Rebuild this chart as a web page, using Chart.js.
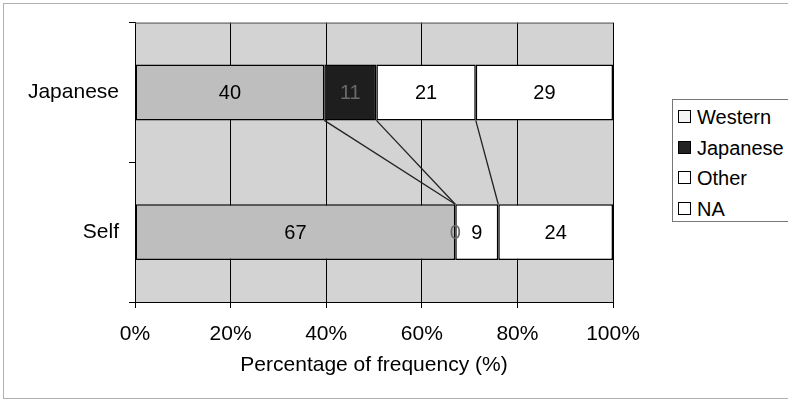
<!DOCTYPE html>
<html>
<head>
<meta charset="utf-8">
<script src="https://cdn.jsdelivr.net/npm/chart.js@4/dist/chart.umd.min.js"></script>
<style>
    body { margin: 0; background: #fff; }
    #wrap { position: relative; width: 788px; height: 401px; overflow: hidden; font-family: "Liberation Sans", Arial, sans-serif; }
    #frame { position: absolute; left: 3px; top: 3px; width: 800px; height: 394px; border: 1px solid #b0b0b0; }
    canvas { position: absolute; left: 0; top: 0; }
    #legend { position: absolute; left: 672px; top: 99px; width: 140px; height: 121px; border: 1px solid #777; background: #fff; }
    .item { position: absolute; left: 5px; font-size: 20px; line-height: 24px; color: #000; white-space: nowrap; }
    .item span { display: inline-block; width: 11px; height: 11px; border: 1px solid #000; margin-right: 6px; vertical-align: 1px; }
</style>
</head>
<body>
<div id="wrap">
    <div id="frame"></div>
    <canvas id="chart" width="788" height="401"></canvas>
    <div id="legend"></div>
</div>
<script>
// data
const categories = ['Japanese', 'Self']
const seriesNames = ['Western', 'Japanese', 'Other', 'NA']
const western = [40, 67]
const japanese = [11, 0]
const other = [21, 9]
const na = [29, 24]
const xTicks = [0, 20, 40, 60, 80, 100]

const seriesValues = [western, japanese, other, na]
const seriesColors = ['#bebebe', '#1e1e1e', '#ffffff', '#ffffff']
const legendSwatch = ['#f4f4f4', '#222222', '#ffffff', '#ffffff']
const labelColors = ['#000', '#6a6a6a', '#000', '#000']
const fontFamily = '"Liberation Sans", Arial, sans-serif'

// Excel 100% stacked: each bar is scaled to its own total
const totals = categories.map(function (c, i) {
    return seriesValues.reduce(function (s, arr) { return s + arr[i] }, 0)
})

const datasets = seriesNames.map(function (name, k) {
    return {
        label: name,
        data: seriesValues[k].map(function (v, i) { return v / totals[i] * 100 }),
        raw: seriesValues[k],
        backgroundColor: seriesColors[k],
        borderColor: '#000',
        borderWidth: 1.5,
        borderSkipped: false,
        barPercentage: 0.4,
        categoryPercentage: 1
    }
})

// start: plugins
const plotBg = {
    id: 'plotBg',
    beforeDraw: function (chart) {
        const a = chart.chartArea
        const ctx = chart.ctx
        ctx.save()
        ctx.fillStyle = '#d3d3d3'
        ctx.fillRect(a.left, a.top, a.right - a.left, a.bottom - a.top)
        ctx.restore()
    },
    afterDraw: function (chart) {
        const a = chart.chartArea
        const ctx = chart.ctx
        ctx.save()
        ctx.strokeStyle = '#555'
        ctx.lineWidth = 1
        ctx.beginPath()
        ctx.moveTo(a.left, a.top + 0.5)
        ctx.lineTo(a.right, a.top + 0.5)
        ctx.stroke()
        ctx.restore()
    }
}

const seriesLines = {
    id: 'seriesLines',
    afterDatasetsDraw: function (chart) {
        const ctx = chart.ctx
        ctx.save()
        ctx.strokeStyle = '#222'
        ctx.lineWidth = 1.3
        for (let k = 0; k < seriesNames.length - 1; k++) {
            const meta = chart.getDatasetMeta(k)
            const top = meta.data[0]
            const bottom = meta.data[1]
            ctx.beginPath()
            ctx.moveTo(top.x, top.y + top.height / 2)
            ctx.lineTo(bottom.x, bottom.y - bottom.height / 2)
            ctx.stroke()
        }
        ctx.restore()
    }
}

const valueLabels = {
    id: 'valueLabels',
    afterDatasetsDraw: function (chart) {
        const ctx = chart.ctx
        ctx.save()
        ctx.font = '20px ' + fontFamily
        ctx.textAlign = 'center'
        ctx.textBaseline = 'middle'
        chart.data.datasets.forEach(function (ds, k) {
            chart.getDatasetMeta(k).data.forEach(function (el, i) {
                ctx.fillStyle = labelColors[k]
                ctx.fillText(String(ds.raw[i]), (el.x + el.base) / 2, el.y + 1)
            })
        })
        ctx.restore()
    }
}
// end: plugins

new Chart(document.getElementById('chart'), {
    type: 'bar',
    data: {
        labels: categories,
        datasets: datasets
    },
    options: {
        indexAxis: 'y',
        responsive: false,
        animation: false,
        devicePixelRatio: 1,
        layout: { padding: { left: 0, top: 18, right: 175, bottom: 0 } },
        plugins: {
            legend: { display: false },
            tooltip: { enabled: false }
        },
        scales: {
            x: {
                stacked: true,
                min: 0,
                max: 100,
                afterBuildTicks: function (scale) {
                    scale.ticks = xTicks.map(function (v) { return { value: v } })
                },
                ticks: {
                    callback: function (v) { return v + '%' },
                    color: '#000',
                    font: { family: fontFamily, size: 21 },
                    padding: 14,
                    maxRotation: 0,
                    autoSkip: false
                },
                grid: { color: '#000', lineWidth: 1, tickLength: 6 },
                border: { color: '#000', width: 1 },
                title: {
                    display: true,
                    text: 'Percentage of frequency (%)',
                    color: '#000',
                    font: { family: fontFamily, size: 21 },
                    padding: { top: 4, bottom: 23 }
                },
                afterFit: function (scale) { scale.height = 99 }
            },
            y: {
                stacked: true,
                ticks: {
                    color: '#000',
                    font: { family: fontFamily, size: 21 },
                    padding: 10
                },
                grid: { offset: true, drawOnChartArea: false, color: '#000', tickLength: 6 },
                border: { color: '#000', width: 1 },
                afterFit: function (scale) { scale.width = 135 }
            }
        }
    },
    plugins: [plotBg, seriesLines, valueLabels]
});

// legend
const legendEl = document.getElementById('legend')
seriesNames.forEach(function (name, k) {
    const item = document.createElement('div')
    item.className = 'item'
    item.style.top = (5 + k * 30.5) + 'px'
    const sw = document.createElement('span')
    sw.style.background = legendSwatch[k]
    item.appendChild(sw)
    item.appendChild(document.createTextNode(name))
    legendEl.appendChild(item)
})
</script>
</body>
</html>
